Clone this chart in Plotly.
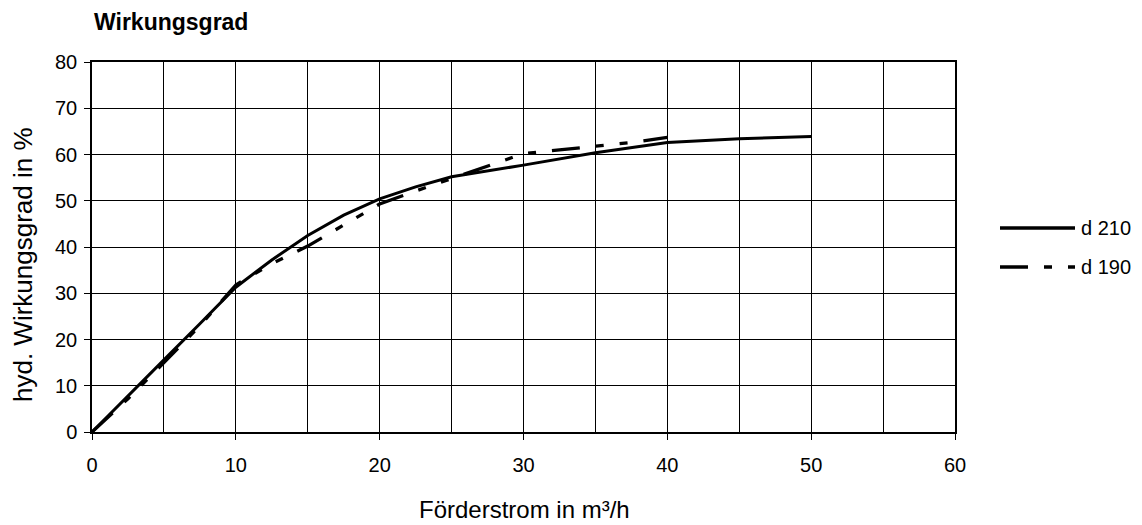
import plotly.graph_objects as go

# Data
x_d210 = [0, 2.5, 5, 7.5, 10, 12.5, 15, 17.5, 20, 22.5, 25, 30, 35, 40, 45, 50]
y_d210 = [0, 7.9, 15.6, 23.4, 31.3, 37.2, 42.5, 46.9, 50.4, 53, 55.2, 57.7, 60.4, 62.6, 63.4, 63.9]

x_d190 = [0, 2.5, 5, 7.5, 10, 12.5, 15, 17.5, 20, 22.5, 25, 27.5, 30, 32.5, 35, 37.5, 40]
y_d190 = [0, 7.2, 15, 23, 31.8, 36.4, 40.2, 44.8, 49.3, 52.1, 54.8, 57.5, 60.2, 61, 61.8, 62.6, 63.7]

series_names = ["d 210", "d 190"]
x_ticks = [0, 10, 20, 30, 40, 50, 60]
y_ticks = [0, 10, 20, 30, 40, 50, 60, 70, 80]

DASH_190 = "28px,16px,8px,16px,8px,16px"
FONT = "Liberation Sans, Arial, sans-serif"

fig = go.Figure()
fig.add_trace(go.Scatter(x=x_d210, y=y_d210, mode="lines", name=series_names[0],
                         line=dict(color="black", width=3), showlegend=False))
fig.add_trace(go.Scatter(x=x_d190, y=y_d190, mode="lines", name=series_names[1],
                         line=dict(color="black", width=3.3, dash=DASH_190), showlegend=False))

# target plot area in window pixels: left 92, right 955, top 62, bottom 432
# the page body has an 8px margin, so the figure is 8px smaller and offset.
W, H = 1142, 525
OFF = 8
L, R, T, B = 92, 955, 62, 432
def px(x):
    return (x - L) / (R - L)
def py(y):
    return (B - y) / (B - T)

fig.update_layout(
    width=W - OFF, height=H - OFF,
    margin=dict(l=L - OFF, r=W - R, t=T - OFF, b=H - B),
    paper_bgcolor="white", plot_bgcolor="white",
    font=dict(family=FONT, color="black", size=20),
    xaxis=dict(range=[0, 60], tickvals=x_ticks, ticktext=[str(v) for v in x_ticks],
               showgrid=True, gridcolor="black", gridwidth=1,
               minor=dict(dtick=5, showgrid=True, gridcolor="black", gridwidth=1, ticks=""),
               ticks="outside", ticklen=6, tickcolor="black", tickwidth=1,
               ticklabelstandoff=8,
               showline=True, linecolor="black", linewidth=1.5, mirror=True,
               zeroline=False, tickfont=dict(size=20, family=FONT), fixedrange=True),
    yaxis=dict(range=[0, 80], tickvals=y_ticks, ticktext=[str(v) for v in y_ticks],
               showgrid=True, gridcolor="black", gridwidth=1,
               ticks="outside", ticklen=6, tickcolor="black", tickwidth=1,
               ticklabelstandoff=3,
               showline=True, linecolor="black", linewidth=1.5, mirror=True,
               zeroline=False, tickfont=dict(size=20, family=FONT), fixedrange=True),
    showlegend=False,
)

annotations = [
    dict(text="<b>Wirkungsgrad</b>", x=px(92), y=py(22), xref="paper", yref="paper",
         xanchor="left", yanchor="middle", showarrow=False, font=dict(size=23, family=FONT)),
    dict(text="Förderstrom in m³/h", x=px(524), y=py(509), xref="paper", yref="paper",
         xanchor="center", yanchor="middle", showarrow=False, font=dict(size=24, family=FONT)),
    dict(text="hyd. Wirkungsgrad in %", x=px(23), y=py(265), xref="paper", yref="paper",
         xanchor="center", yanchor="middle", showarrow=False, textangle=-90,
         font=dict(size=26, family=FONT)),
]
shapes = []
legend_y = [228, 267]
legend_dash = ["solid", DASH_190]
for name, ly, dsh in zip(series_names, legend_y, legend_dash):
    shapes.append(dict(type="line", xref="paper", yref="paper",
                       x0=px(1000), x1=px(1075), y0=py(ly), y1=py(ly),
                       line=dict(color="black", width=3.3, dash=dsh)))
    annotations.append(dict(text=name, x=px(1079), y=py(ly), xref="paper", yref="paper",
                            xanchor="left", yanchor="middle", showarrow=False,
                            font=dict(size=20, family=FONT)))
fig.update_layout(annotations=annotations, shapes=shapes)

fig.write_html("out.html")
